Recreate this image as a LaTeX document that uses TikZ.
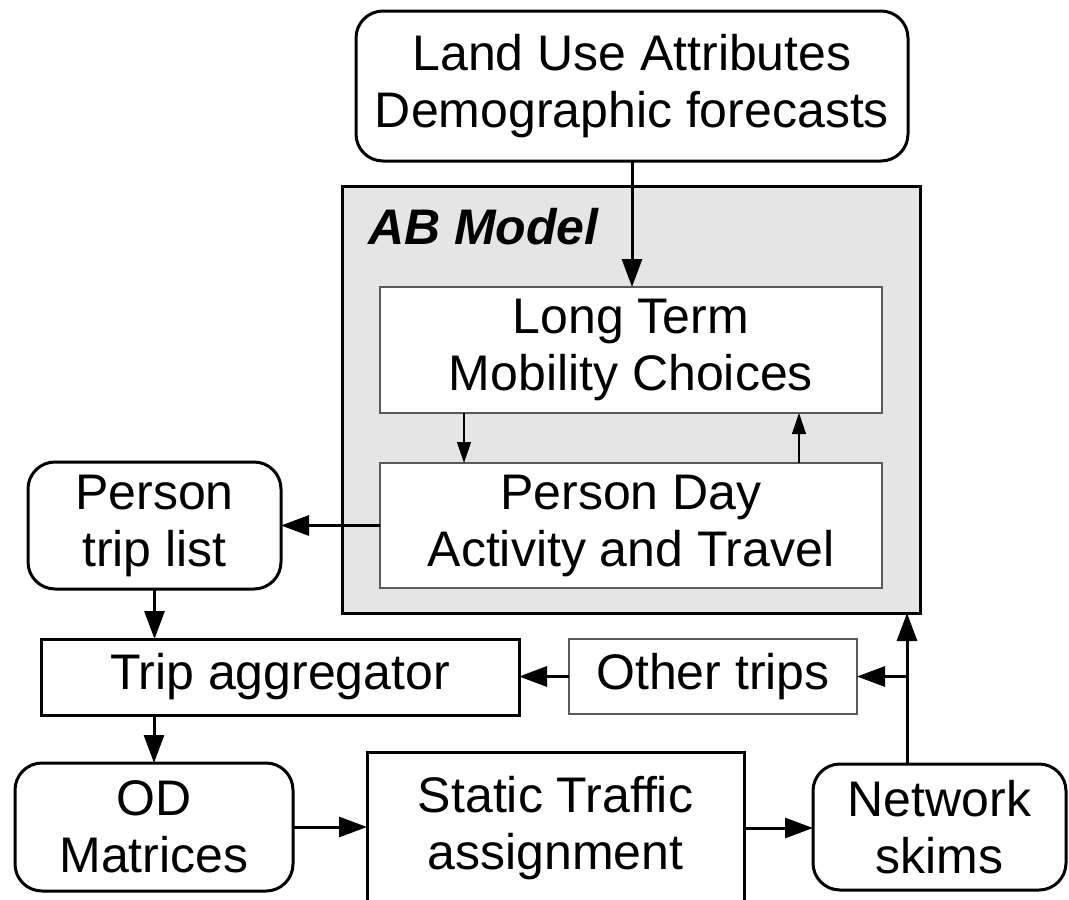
\documentclass[tikz,border=0pt]{standalone}
\usepackage{fontspec}
\setmainfont{Liberation Sans}
\usetikzlibrary{arrows.meta}
\begin{document}
\begin{tikzpicture}[x=1pt,y=-1pt,
  lbl/.style={font=\fontsize{50}{57}\selectfont, align=center, inner sep=0pt, outer sep=0pt},
  thickbox/.style={lbl, draw=black, line width=3pt, rectangle, fill=white},
  roundbox/.style={thickbox, rounded corners=27pt},
  thinbox/.style={lbl, draw=black!65, line width=1.2pt, fill=white},
  arr/.style={line width=3pt, -{Triangle[length=28pt,width=20pt]}},
  tarr/.style={line width=1.1pt, -{Triangle[length=21pt,width=14pt]}},
]
\useasboundingbox (0,0) rectangle (1069,900);
\clip (0,0) rectangle (1069,900);
\fill[white] (0,0) rectangle (1069,900);

\node[draw=black, line width=3pt, fill=black!10, minimum width=578, minimum height=427, inner sep=0pt, outer sep=0pt] (ab) at (631,399.5) {};
\node[lbl, font=\fontsize{50}{57}\selectfont\bfseries\itshape, anchor=base west] (abl) at (368,244) {AB Model};

\node[roundbox, minimum width=552, minimum height=150] (land) at (632,86) {Land Use Attributes\\Demographic forecasts};
\node[thinbox, minimum width=502, minimum height=126] (lt) at (631,350) {Long Term\\Mobility Choices};
\node[thinbox, minimum width=502, minimum height=125] (pd) at (631,525.5) {Person Day\\Activity and Travel};
\node[roundbox, minimum width=253, minimum height=127] (ptl) at (154.5,525.5) {Person\\trip list};
\node[thickbox, minimum width=478, minimum height=76] (ta) at (280,677) {Trip aggregator};
\node[thinbox, minimum width=288, minimum height=75] (ot) at (713,676.5) {Other trips};
\node[roundbox, minimum width=278, minimum height=128] (od) at (154,827) {OD\\Matrices};
\node[thickbox, minimum width=377, minimum height=152] (sta) at (555.5,828) {Static Traffic\\assignment};
\node[roundbox, minimum width=253, minimum height=126] (ns) at (939.5,827) {Network\\skims};

\draw[arr] (land.south) -- (land.south |- lt.north);
\draw[tarr] ([xshift=84pt]lt.south west) -- ([xshift=84pt]pd.north west);
\draw[tarr] ([xshift=419pt]pd.north west) -- ([xshift=419pt]lt.south west);
\draw[arr] (pd.west) -- (pd.west -| ptl.east);
\draw[arr] (ptl.south) -- (ptl.south |- ta.north);
\draw[arr] (ot.west) -- (ot.west -| ta.east);
\coordinate (up) at ([xshift=-32.5pt]ns.north);
\draw[arr] (up) -- (up |- ab.south);
\draw[arr] (up |- ot.east) -- (ot.east);
\draw[arr] (od.north |- ta.south) -- (od.north);
\draw[arr] (od.east) -- (od.east -| sta.west);
\draw[arr] (sta.east) -- (sta.east -| ns.west);
\end{tikzpicture}
\end{document}
